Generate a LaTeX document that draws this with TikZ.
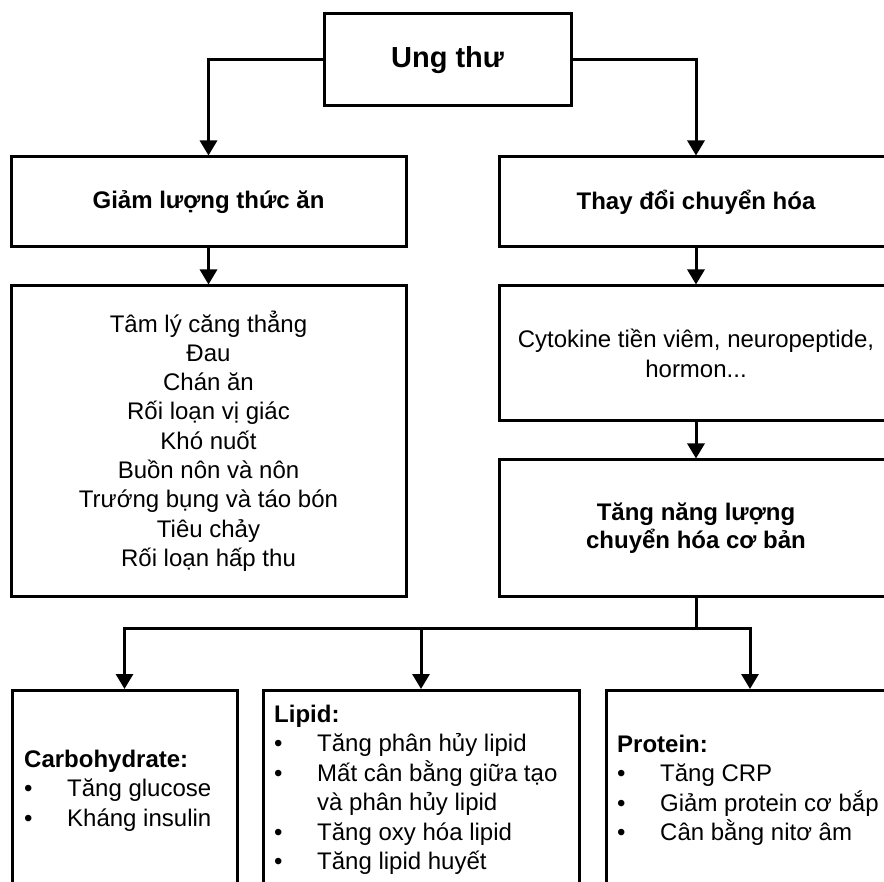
\documentclass[tikz,border=0pt]{standalone}
\usepackage{fontspec}
\setmainfont{Liberation Sans}
\usetikzlibrary{arrows.meta}
\begin{document}
\begin{tikzpicture}[x=1pt,y=-1pt,
  box/.style={draw, line width=3pt, inner sep=0pt, align=center,
    font=\fontsize{24}{29.3}\selectfont},
  txtl/.style={inner sep=0pt, anchor=base west, font=\fontsize{24}{29.5}\selectfont},
  arr/.style={line width=3pt, -{Triangle[length=15pt,width=17pt]}},
  ln/.style={line width=3pt}]
\clip (0,0) rectangle (884,882);
\fill[white] (0,0) rectangle (884,882);
% top
\node[box, minimum width=247pt, minimum height=92pt,
  font=\bfseries\fontsize{29}{34}\selectfont] (ung) at (447.5,60) {Ung thư};
\node[box, minimum width=395pt, minimum height=90pt, font=\bfseries\fontsize{24}{29}\selectfont]
  (giam) at (208.5,202) {Giảm lượng thức ăn};
\node[box, minimum width=394pt, minimum height=90pt, font=\bfseries\fontsize{24}{29}\selectfont]
  (thay) at (696,202) {Thay đổi chuyển hóa};
% middle
\node[box, minimum width=395pt, minimum height=310pt] (list) at (208.5,441)
  {Tâm lý căng thẳng\\Đau\\Chán ăn\\Rối loạn vị giác\\Khó nuốt\\Buồn nôn và nôn\\Trướng bụng và táo bón\\Tiêu chảy\\Rối loạn hấp thu};
\node[box, minimum width=394pt, minimum height=135pt] (cyto) at (696,353.5)
  {Cytokine tiền viêm, neuropeptide,\\hormon...};
\node[box, minimum width=394pt, minimum height=136pt, font=\bfseries\fontsize{24}{28.5}\selectfont]
  (tang) at (696,528) {Tăng năng lượng\\chuyển hóa cơ bản};
% bottom boxes
\node[box, minimum width=225pt, minimum height=240pt, anchor=north] (carb) at (124.5,689) {};
\node[box, minimum width=316pt, minimum height=240pt, anchor=north] (lipid) at (421,689) {};
\node[box, minimum width=288pt, minimum height=240pt, anchor=north] (prot) at (750,689) {};
% bottom texts
\node[txtl] (carbt) at (24,767) {\begin{tabular}[t]{@{}l@{}}\textbf{Carbohydrate:}\\
  \makebox[43pt][l]{•}Tăng glucose\\
  \makebox[43pt][l]{•}Kháng insulin\end{tabular}};
\node[txtl] (lipidt) at (274,722) {\begin{tabular}[t]{@{}l@{}}\textbf{Lipid:}\\
  \makebox[43pt][l]{•}Tăng phân hủy lipid\\
  \makebox[43pt][l]{•}Mất cân bằng giữa tạo\\
  \hspace*{43pt}và phân hủy lipid\\
  \makebox[43pt][l]{•}Tăng oxy hóa lipid\\
  \makebox[43pt][l]{•}Tăng lipid huyết\end{tabular}};
\node[txtl] (prott) at (617,752) {\begin{tabular}[t]{@{}l@{}}\textbf{Protein:}\\
  \makebox[43pt][l]{•}Tăng CRP\\
  \makebox[43pt][l]{•}Giảm protein cơ bắp\\
  \makebox[43pt][l]{•}Cân bằng nitơ âm\end{tabular}};
% connectors
\draw[arr] (ung.west) -| (giam.north);
\draw[arr] (ung.east) -| (thay.north);
\draw[arr] (giam.south) -- (list.north);
\draw[arr] (thay.south) -- (cyto.north);
\draw[arr] (cyto.south) -- (tang.north);
\coordinate (j) at (696,628);
\coordinate (jl) at (lipid.north |- j);
\draw[ln] (tang.south) -- (j);
\draw[arr] (j) -| (carb.north);
\draw[arr] (j) -| (prot.north);
\draw[arr] (jl) -- (lipid.north);
\end{tikzpicture}
\end{document}
